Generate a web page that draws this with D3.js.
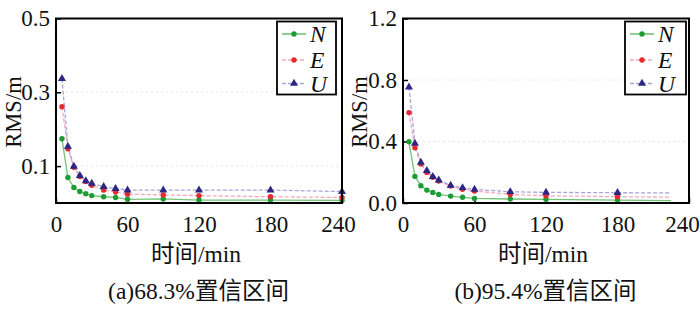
<!DOCTYPE html>
<html><head><meta charset="utf-8">
<script src="https://cdn.jsdelivr.net/npm/d3@7/dist/d3.min.js"></script>
<style>
html,body{margin:0;padding:0;background:#fff;}
svg{display:block;}
</style></head>
<body>
<svg id="c" width="700" height="310"></svg>
<script>
// ---- data ----
const seriesNames = ["N", "E", "U"];
const xTicks = [0, 60, 120, 180, 240];

const timesA = [5, 10, 15, 20, 25, 30, 40, 50, 60, 90, 120, 180, 240];
const nA = [0.174, 0.069, 0.042, 0.031, 0.025, 0.020, 0.017, 0.015, 0.010, 0.011, 0.008, 0.008, 0.007];
const eA = [0.261, 0.147, 0.097, 0.072, 0.058, 0.048, 0.035, 0.030, 0.024, 0.022, 0.020, 0.017, 0.015];
const uA = [0.337, 0.153, 0.099, 0.074, 0.060, 0.053, 0.044, 0.039, 0.035, 0.035, 0.035, 0.035, 0.031];
const yTicksA = [0.1, 0.3, 0.5];
const yMaxA = 0.5;

const timesB = [5, 10, 15, 20, 25, 30, 40, 50, 60, 90, 120, 180, 225];
const nB = [0.398, 0.173, 0.112, 0.084, 0.069, 0.056, 0.045, 0.037, 0.030, 0.026, 0.024, 0.019, 0.015];
const eB = [0.588, 0.359, 0.253, 0.199, 0.167, 0.143, 0.110, 0.089, 0.078, 0.056, 0.047, 0.041, 0.038];
const uB = [0.754, 0.387, 0.264, 0.210, 0.171, 0.149, 0.115, 0.099, 0.089, 0.073, 0.069, 0.067, 0.065];
const yTicksB = [0.0, 0.4, 0.8, 1.2];
const yMaxB = 1.2;
const markedCountB = 12; // last B point is a line end without marker

const captionA = "(a)68.3%置信区间";
const captionB = "(b)95.4%置信区间";
const xLabel = "时间/min";
const yLabel = "RMS/m";

// ---- styles ----
const serif = "'Liberation Serif','Times New Roman','Noto Sans CJK SC',serif";
const styles = {
  N: {line: "#72c276", dash: null, mark: "#1e9c34", shape: "circle"},
  E: {line: "#f4a9ba", dash: "4,2", mark: "#e42a2e", shape: "circle"},
  U: {line: "#aca3d8", dash: "4,2", mark: "#2c2784", shape: "triangle"}
};

const svg = d3.select("#c");

function panel(opt) {
  const g = svg.append("g");
  const x = d3.scaleLinear().domain([0, 240]).range([opt.x0, opt.x1]);
  const y = d3.scaleLinear().domain([0, opt.yMax]).range([203, 18.5]);

  // faint dotted grid
  g.append("g").selectAll("line").data(opt.yTicks.filter(v => v > 0 && v < opt.yMax))
    .join("line")
    .attr("x1", opt.x0).attr("x2", opt.x1)
    .attr("y1", d => y(d)).attr("y2", d => y(d))
    .attr("stroke", "#e6e6e6").attr("stroke-width", 1).attr("stroke-dasharray", "2,3");

  // axes (ticks inward)
  const yAxis = d3.axisLeft(y).tickValues(opt.yTicks).tickSize(-5).tickPadding(6)
    .tickFormat(d3.format(".1f"));
  const ga = g.append("g").attr("transform", `translate(${opt.x0},0)`).call(yAxis);
  ga.select(".domain").remove();
  ga.selectAll("line").attr("stroke", "#000").attr("stroke-width", 1.5);
  ga.selectAll("text").attr("font-family", serif).attr("font-size", 23).attr("fill", "#111");

  const xAxis = d3.axisBottom(x).tickValues(xTicks).tickSize(-5).tickPadding(13);
  const gx = g.append("g").attr("transform", `translate(0,203)`).call(xAxis);
  gx.select(".domain").remove();
  gx.selectAll("line").attr("stroke", "#000").attr("stroke-width", 1.5);
  gx.selectAll("text").attr("font-family", serif).attr("font-size", 23).attr("fill", "#111")
    .attr("dx", d => d === 240 ? opt.lastDx : 0);

  // series
  const data = {N: opt.n, E: opt.e, U: opt.u};
  const line = d3.line().x((d, i) => x(opt.times[i])).y(d => y(d));
  seriesNames.forEach(name => {
    const st = styles[name];
    g.append("path").datum(data[name])
      .attr("d", line).attr("fill", "none")
      .attr("stroke", st.line).attr("stroke-width", 1.3)
      .attr("stroke-dasharray", st.dash);
  });
  seriesNames.forEach(name => {
    const st = styles[name];
    const pts = data[name].slice(0, opt.marked);
    drawMarkers(g, pts.map((v, i) => [x(opt.times[i]), y(v)]), st);
  });

  // frame
  g.append("rect").attr("x", opt.x0).attr("y", 18.5)
    .attr("width", opt.x1 - opt.x0).attr("height", 203 - 18.5)
    .attr("fill", "none").attr("stroke", "#000").attr("stroke-width", 2);

  // legend
  const lg = g.append("g");
  lg.append("rect").attr("x", opt.lx).attr("y", 21.5).attr("width", opt.lw).attr("height", 73)
    .attr("fill", "#fff").attr("stroke", "#000").attr("stroke-width", 1.8);
  const ly = [34, 60, 83.5];
  seriesNames.forEach((name, i) => {
    const st = styles[name];
    const x1 = opt.lx + 5, x2 = opt.lx + 29;
    lg.append("line").attr("x1", x1).attr("x2", x2).attr("y1", ly[i]).attr("y2", ly[i])
      .attr("stroke", st.line).attr("stroke-width", 1.6).attr("stroke-dasharray", st.dash);
    drawMarkers(lg, [[(x1 + x2) / 2, ly[i]]], st);
    lg.append("text").attr("x", opt.lx + 33).attr("y", ly[i] + 8)
      .attr("font-family", serif).attr("font-style", "italic").attr("font-size", 23.5)
      .attr("fill", "#111").text(name);
  });

  // labels
  const cx = (opt.x0 + opt.x1) / 2;
  g.append("text").attr("transform", `translate(${opt.yl},112) rotate(-90)`)
    .attr("text-anchor", "middle").attr("font-family", serif).attr("font-size", 22.5)
    .attr("fill", "#111").text(yLabel);
  g.append("text").attr("x", cx - 3).attr("y", 262).attr("text-anchor", "middle")
    .attr("font-family", serif).attr("font-size", 23.5).attr("fill", "#111").text(xLabel);
  g.append("text").attr("x", cx - 0.5).attr("y", 299).attr("text-anchor", "middle")
    .attr("font-family", serif).attr("font-size", 23.5).attr("fill", "#111").text(opt.caption);
}

function drawMarkers(g, pts, st) {
  if (st.shape === "triangle") {
    g.append("g").selectAll("path").data(pts).join("path")
      .attr("d", d3.symbol().type(d3.symbolTriangle).size(28))
      .attr("transform", d => `translate(${d[0]},${d[1]})`)
      .attr("fill", st.mark);
  } else {
    g.append("g").selectAll("circle").data(pts).join("circle")
      .attr("cx", d => d[0]).attr("cy", d => d[1]).attr("r", 2.7)
      .attr("fill", st.mark);
  }
}

panel({x0: 56, x1: 342, yMax: yMaxA, yTicks: yTicksA, times: timesA, n: nA, e: eA, u: uA,
  marked: timesA.length, lx: 277, lw: 59, yl: 20.5, lastDx: -4, caption: captionA});
panel({x0: 403, x1: 689, yMax: yMaxB, yTicks: yTicksB, times: timesB, n: nB, e: eB, u: uB,
  marked: markedCountB, lx: 625, lw: 61, yl: 367, lastDx: -7, caption: captionB});
</script>
</body></html>
